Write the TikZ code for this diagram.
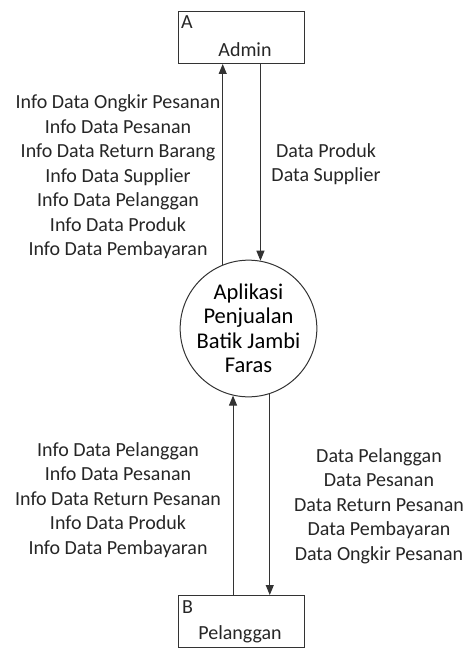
\documentclass[tikz,border=0pt]{standalone}
\usepackage{fontspec}
\setmainfont{Carlito}
\usetikzlibrary{arrows.meta}
\begin{document}
\begin{tikzpicture}[x=1pt, y=-1pt,
        ent/.style={draw=black!80, line width=1pt, minimum width=126pt, minimum height=52pt, inner sep=0pt},
        proc/.style={draw=black!80, line width=1pt, circle, minimum size=133pt, inner sep=0pt, align=center, font=\fontsize{22.5}{24.5}\selectfont},
        lbl/.style={align=center, inner sep=0pt, text=black!85, font=\fontsize{20}{24.5}\selectfont},
        flow/.style={draw=black!80, line width=1pt, -{Triangle[length=10pt,width=8pt]}}]
    \useasboundingbox (0,0) rectangle (470,650);
    \node[ent] (admin) at (241.5,37.5) {};
    \node[lbl, anchor=base west] (adminid) at (181,29) {A};
    \node[lbl, anchor=base] (adminname) at (245,57) {Admin};
    \node[ent] (plg) at (241.5,621.5) {};
    \node[lbl, anchor=base west] (plgid) at (182,613) {B};
    \node[lbl, anchor=base] (plgname) at (240,639) {Pelanggan};
    \node[proc] (app) at (248.5,328.5) {Aplikasi\\Penjualan\\Batik Jambi\\Faras};
    % arus data admin
    \draw[flow] (app.112.5) -- (app.112.5 |- admin.south);
    \draw[flow] (admin.south -| app.80) -- (app.80);
    \node[lbl] (infoadmin) at (118,177) {Info Data Ongkir Pesanan\\Info Data Pesanan\\Info Data Return Barang\\Info Data Supplier\\Info Data Pelanggan\\Info Data Produk\\Info Data Pembayaran};
    \node[lbl] (dataadmin) at (326,164) {Data Produk\\Data Supplier};
    % arus data pelanggan
    \draw[flow] (plg.north -| app.257.4) -- (app.257.4);
    \draw[flow] (app.288) -- (app.288 |- plg.north);
    \node[lbl] (infoplg) at (118,500) {Info Data Pelanggan\\Info Data Pesanan\\Info Data Return Pesanan\\Info Data Produk\\Info Data Pembayaran};
    \node[lbl] (dataplg) at (379,506) {Data Pelanggan\\Data Pesanan\\Data Return Pesanan\\Data Pembayaran\\Data Ongkir Pesanan};
\end{tikzpicture}
\end{document}
